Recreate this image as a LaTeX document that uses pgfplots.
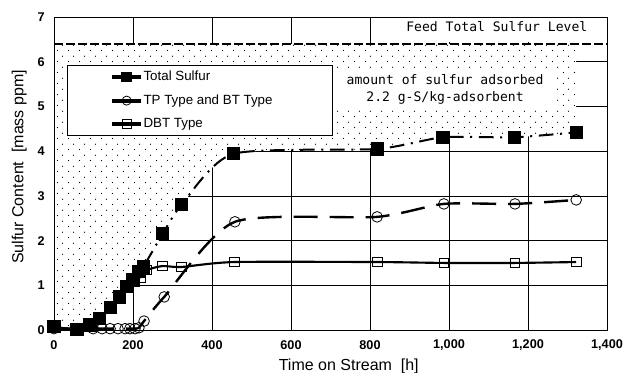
\documentclass[border=0pt]{standalone}
\usepackage{pgfplots}
\pgfplotsset{compat=1.18}
\usepgfplotslibrary{fillbetween}
\usetikzlibrary{patterns.meta}
\usepackage{fontspec}
\setmainfont{Liberation Sans}
\newfontfamily\monofont{DejaVu Sans Mono}
\tikzdeclarepattern{
  name=stagdots, type=uncolored,
  bottom left={(0pt,0pt)}, top right={(8.25pt,8.4pt)},
  tile size={(8.25pt,8.4pt)},
  code={\fill (2pt,2pt) circle (0.5pt); \fill (6.125pt,6.2pt) circle (0.5pt);}
}
\begin{document}
\begin{tikzpicture}
\begin{axis}[
  scale only axis, width=414.75pt, height=234.75pt,
  at={(0,0)}, anchor=south west,
  xmin=0, xmax=1400, ymin=0, ymax=7,
  xtick={0,200,...,1400}, ytick={0,1,...,7},
  grid=major, major grid style={black, line width=0.5pt},
  major tick length=0pt,
  axis line style={black, line width=0.6pt},
  tick label style={font=\fontsize{9.5}{11}\selectfont\bfseries},
  /pgf/number format/assume math mode=true,
  /pgf/number format/1000 sep={,},
  xticklabel style={anchor=center, yshift=-11.6pt},
  yticklabel style={anchor=east, xshift=-3.5pt},
  xlabel={Time on Stream\ \ [h]},
  ylabel={Sulfur Content\ \ [mass ppm]},
  label style={font=\fontsize{12}{14}\selectfont},
  xlabel style={at={(axis description cs:0.533,-0.115)}, anchor=center},
  ylabel style={at={(axis description cs:-0.0627,0.521)}, anchor=center},
  legend style={at={(axis cs:33,5.93)}, anchor=north west, draw=black, fill=white,
    inner xsep=0pt, inner ysep=2.5pt, row sep=5pt,
    font=\fontsize{10}{12}\selectfont},
  legend cell align=left,
  legend image code/.code={\path[draw=none] (0pt,0pt) -- (55pt,0pt);
    \fill[black] (34pt,-1.1pt) rectangle (55pt,1.1pt);
    \draw[#1,solid] plot coordinates {(44.5pt,0pt)};},
  smooth, tension=0.4,
]
% legend images (drawn in legend order)
\addlegendimage{mark=square*, mark size=3.6pt, mark options={solid, fill=black, line width=0.6pt}}
\addlegendentry{\makebox[139.5pt][l]{Total Sulfur}}
\addlegendimage{mark=o, mark size=3.4pt, mark options={solid, line width=0.6pt, fill=white}}
\addlegendentry{\makebox[139.5pt][l]{TP Type and BT Type}}
\addlegendimage{mark=square, mark size=3.2pt, mark options={solid, line width=0.6pt, fill=white}}
\addlegendentry{\makebox[139.5pt][l]{DBT Type}}
% feed level
\addplot[name path=top, forget plot, draw=none, sharp plot] coordinates {(0,6.4) (1322,6.4)};
% Total sulfur path (for fill)
\addplot[name path=total, forget plot, draw=none] coordinates {
(0,0.07)(58,0.02)(91,0.11)(116,0.25)(144,0.51)(165,0.74)(184,0.97)(200,1.12)(213,1.3)(226,1.41)(275,2.15)(323,2.8)(454,3.94)(818,4.05)(985,4.31)(1165,4.31)(1322,4.42)};
\addplot[fill=white, draw=none, forget plot] fill between[of=top and total];
\addplot[pattern=stagdots, pattern color=black, draw=none, forget plot] fill between[of=top and total];
\node[fill=white, inner sep=0pt, minimum width=169pt, minimum height=18pt] at (axis cs:1109,6.72) {};
\addplot[line width=2pt, dash pattern=on 7pt off 2pt, sharp plot, forget plot] coordinates {(0,6.4) (1400,6.4)};
% TP type and BT type
\addplot[forget plot, line width=1.8pt, dash pattern=on 18pt off 9pt, mark=o, mark size=4pt, mark options={solid, line width=0.6pt}] coordinates {
(0,0.03)(58,0.03)(99,0.03)(122,0.03)(142,0.03)(162,0.03)(180,0.03)(192,0.03)(205,0.03)(215,0.05)(228,0.2)(279,0.74)(458,2.42)(818,2.53)(987,2.82)(1167,2.82)(1322,2.91)};
% DBT type
\addplot[forget plot, line width=1.6pt, mark=square, mark size=3.6pt, mark options={solid, line width=0.6pt}] coordinates {
(0,0.05)(58,0.02)(91,0.1)(116,0.25)(144,0.5)(165,0.74)(184,0.97)(200,1.08)(218,1.18)(235,1.34)(274,1.43)(323,1.41)(456,1.52)(818,1.52)(987,1.5)(1167,1.5)(1322,1.52)};
% Total sulfur
\addplot[forget plot, line width=1.5pt, dash pattern=on 11pt off 5pt on 1.5pt off 5pt, mark=square*, mark size=4.2pt, mark options={solid, fill=black}] coordinates {
(0,0.07)(58,0.02)(91,0.11)(116,0.25)(144,0.51)(165,0.74)(184,0.97)(200,1.12)(213,1.3)(226,1.41)(275,2.15)(323,2.8)(454,3.94)(818,4.05)(985,4.31)(1165,4.31)(1322,4.42)};
\node[fill=white, inner sep=0pt, minimum width=168pt, minimum height=27pt, align=center,
  font=\monofont\fontsize{9.8}{13}\selectfont] at (axis cs:990,5.38) {amount of sulfur adsorbed\\2.2 g-S/kg-adsorbent};
\node[font=\monofont\fontsize{9.8}{12}\selectfont, inner sep=0pt] at (axis cs:1121,6.78) {Feed Total Sulfur Level};
\draw[line width=0.6pt] (rel axis cs:0,0) rectangle (rel axis cs:1,1);
\end{axis}
\pgfresetboundingbox
\useasboundingbox (-40.5pt,-31.5pt) rectangle (427.5pt,247.5pt);
\end{tikzpicture}
\end{document}
